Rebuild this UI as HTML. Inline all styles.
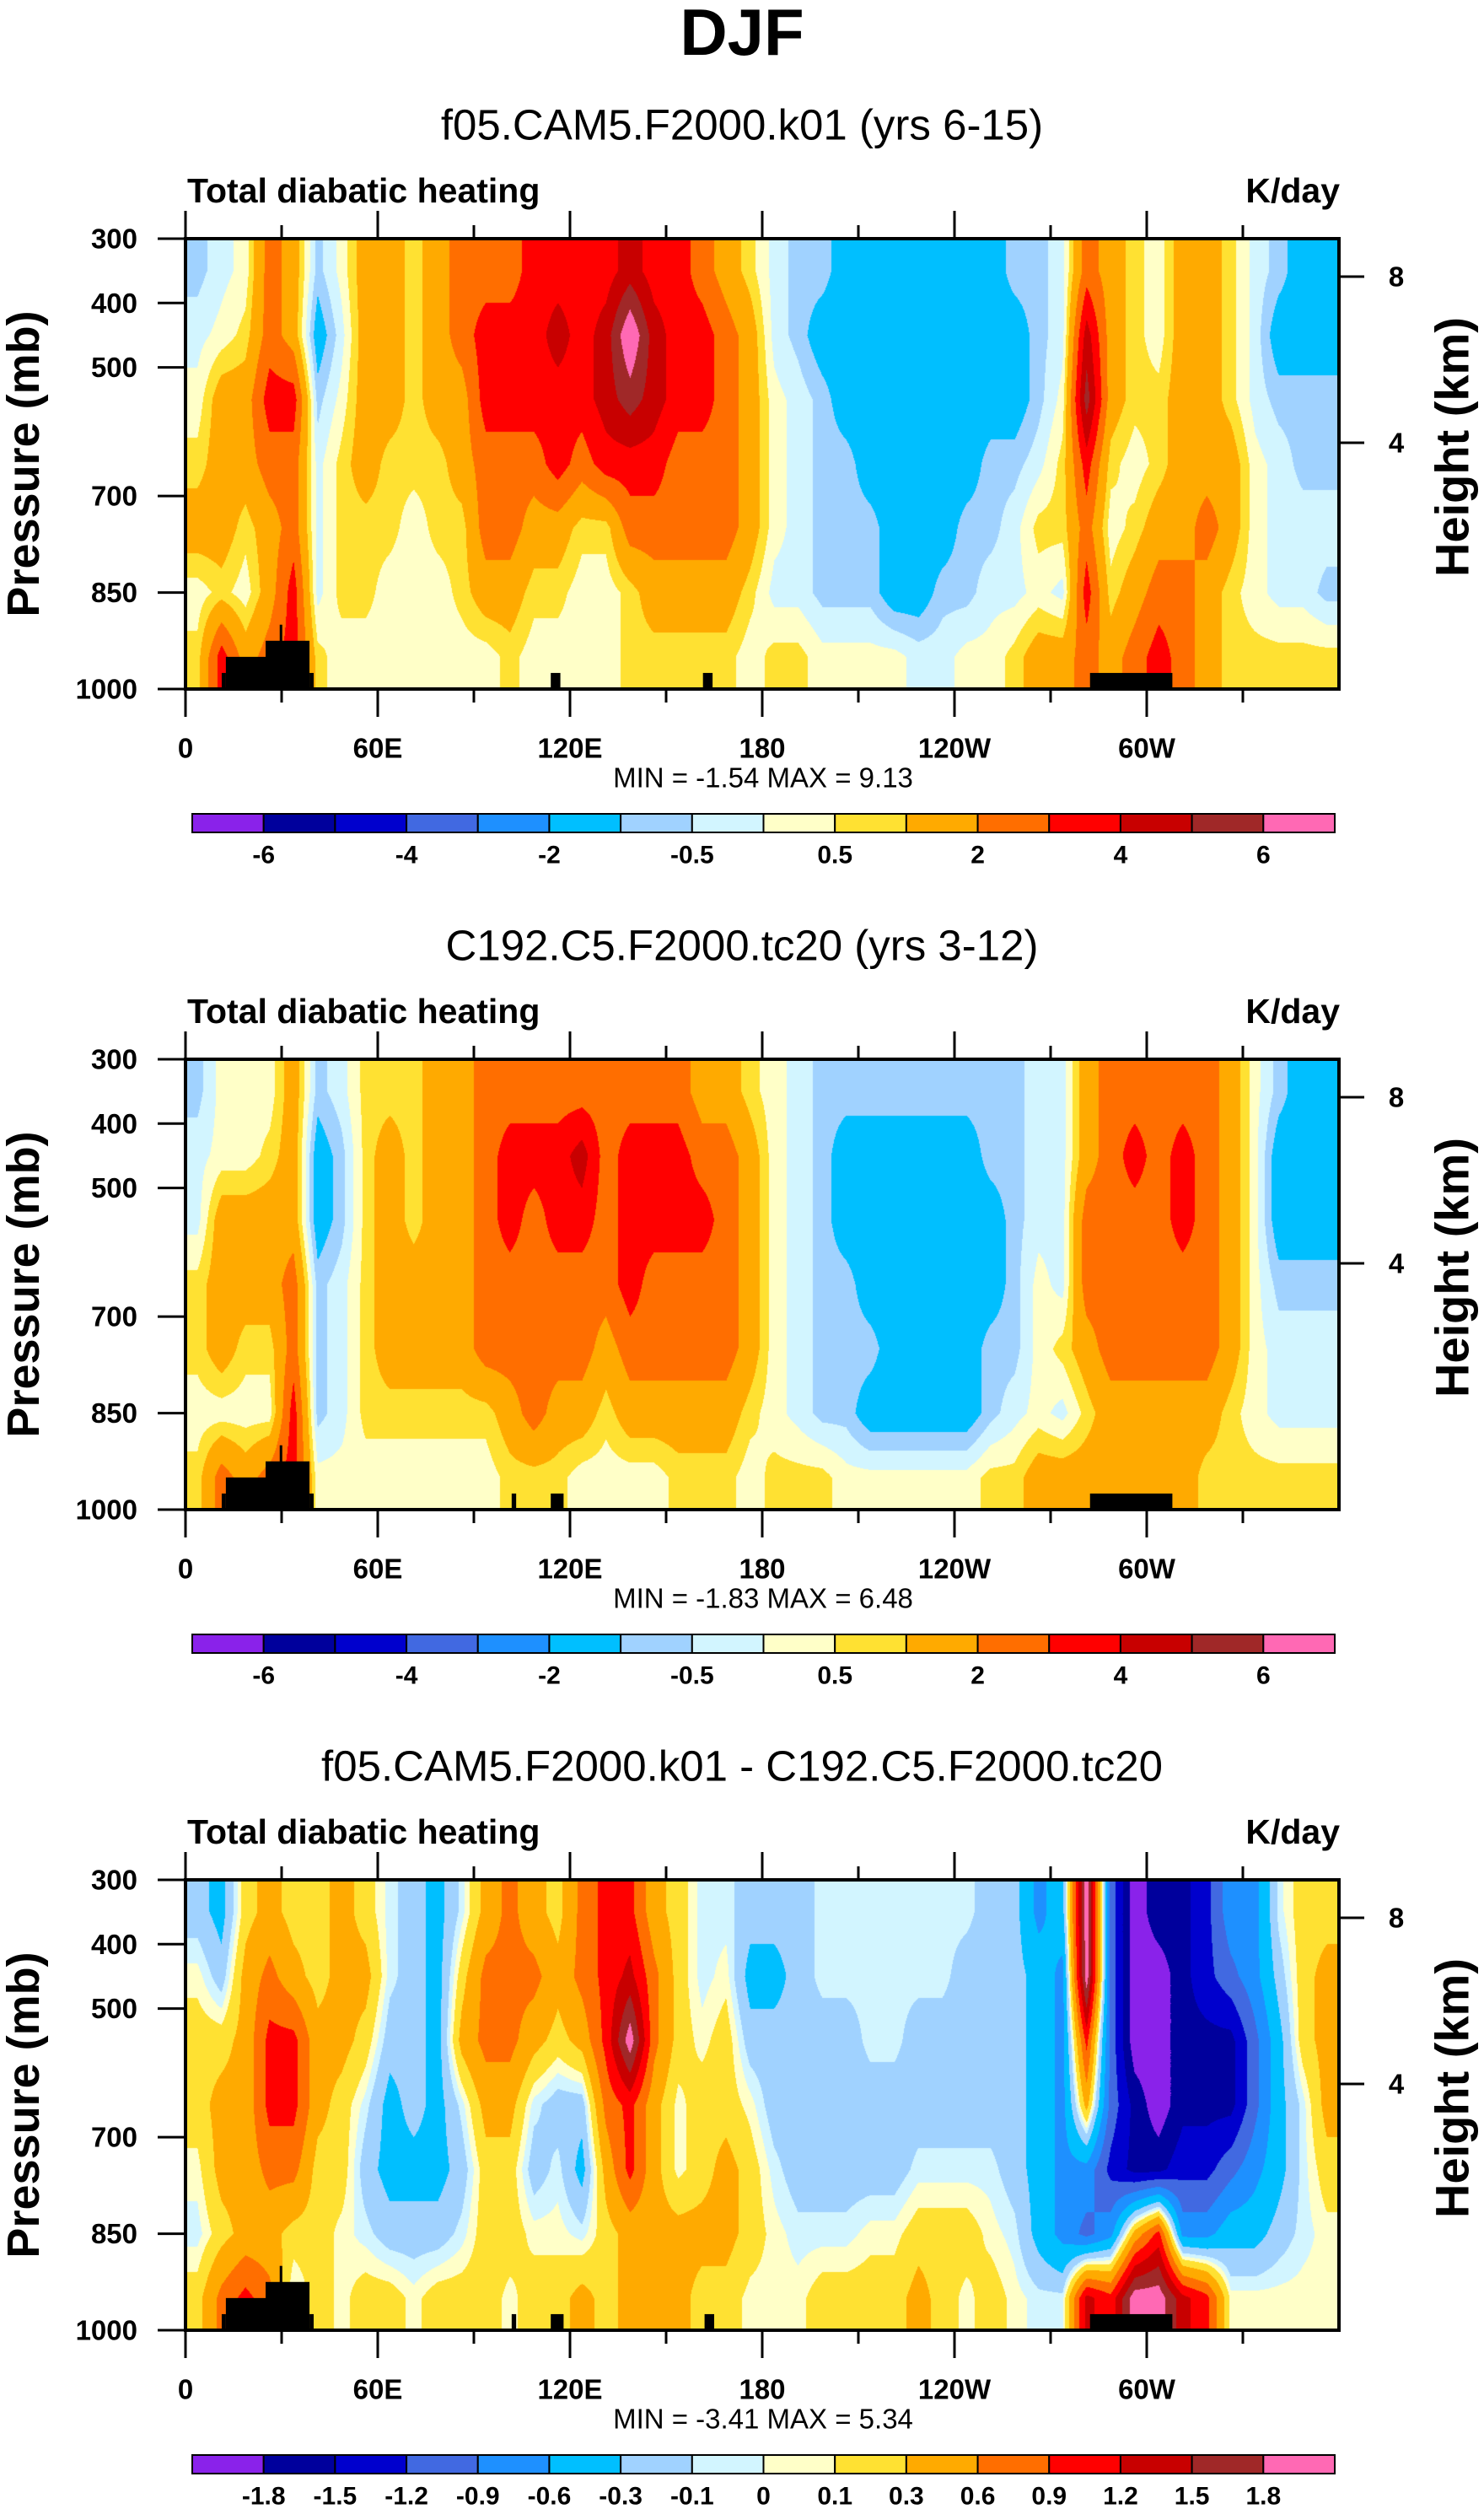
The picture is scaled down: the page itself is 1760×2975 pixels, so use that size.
<!DOCTYPE html>
<html><head><meta charset="utf-8"><title>DJF Total diabatic heating</title>
<style>
html,body{margin:0;padding:0;background:#fff;}
#root{position:relative;width:1760px;height:2975px;overflow:hidden;font-family:"Liberation Sans",sans-serif;}
canvas{position:absolute;}
svg{position:absolute;left:0;top:0;}
</style></head>
<body>
<div id="root">
<canvas id="c0" width="1368" height="534" style="left:220px;top:283px"></canvas>
<canvas id="c1" width="1368" height="534" style="left:220px;top:1256px"></canvas>
<canvas id="c2" width="1368" height="534" style="left:220px;top:2229px"></canvas>
<svg id="svg" width="1760" height="2975"></svg>
</div>
<script>
const colors=["#8a22ea","#00009c","#0000cd","#4169e1","#1e90ff","#00bfff","#a0d2ff","#d2f5ff","#ffffc8","#ffe132","#ffaa00","#ff6e00","#ff0000","#c80000","#a02828","#ff69b4"];
const levelsAbs=[-6,-5,-4,-3,-2,-1,-0.5,0,0.5,1,2,3,4,5,6];
const levelsDiff=[-1.8,-1.5,-1.2,-0.9,-0.6,-0.3,-0.1,0,0.1,0.3,0.6,0.9,1.2,1.5,1.8];
const labelsAbs=["-6","-4","-2","-0.5","0.5","2","4","6"];
const labelsDiff=["-1.8","-1.5","-1.2","-0.9","-0.6","-0.3","-0.1","0","0.1","0.3","0.6","0.9","1.2","1.5","1.8"];
const pCenters=[350,450,550,650,750,850,950];
const pTicks=[300,400,500,700,850,1000];
const hTicks=[{lab:"8",y:45},{lab:"4",y:242}];
const lonTicks=["0","60E","120E","180","120W","60W"];
const titles=["f05.CAM5.F2000.k01 (yrs 6-15)","C192.C5.F2000.tc20 (yrs 3-12)","f05.CAM5.F2000.k01 - C192.C5.F2000.tc20"];
const minVals=["-1.54","-1.83","-3.41"];
const maxVals=["9.13","6.48","5.34"];
const land1=[[11.3,12.6,975],[12.6,25,950],[25,38.7,925],[38.7,40,975],[29.4,30.2,900],[114,117,975],[161.5,164.5,975],[282.3,308,975]];
const land2=[[11.3,12.6,975],[12.6,25,950],[25,38.7,925],[38.7,40,975],[29.4,30.2,900],[101.8,103.2,975],[114,118,975],[282.3,308,975]];
const land3=[[11.3,12.6,975],[12.6,25,950],[25,38.7,925],[38.7,40,975],[29.4,30.2,900],[101.8,103.2,975],[114,118,975],[162,165,975],[282.3,308,975]];
const panel1=[[-0.7,-0.2,0.2,0.7,1.5,0.2,0.7],[-0.2,0.2,1.5,1.5,1.5,0.7,3.5],[0.2,0.7,1.5,1.5,0.7,0.2,1.5],[2.5,2.5,3.5,2.5,1.5,1.5,2.5],[1.5,1.5,3.5,2.5,2.5,3.5,3.5],[-0.7,-1.5,-0.7,-0.2,-0.2,-0.2,0.7],[0.2,-0.2,0.2,0.7,0.7,0.7,0.2],[1.5,1.5,1.5,1.5,0.7,0.7,0.2],[1.5,1.5,1.5,0.7,0.7,0.2,0.2],[0.7,0.7,0.7,0.7,0.2,0.2,0.2],[1.5,1.5,1.5,0.7,0.7,0.2,0.2],[2.5,2.5,1.5,1.5,0.7,0.7,0.2],[2.5,3.5,3.5,2.5,2.5,1.5,0.2],[2.5,3.5,3.5,2.5,2.5,1.5,0.7],[3.5,3.5,3.5,2.5,1.5,0.7,0.2],[3.5,4.5,3.5,3.5,1.5,0.7,0.2],[3.5,3.5,3.5,2.5,0.7,0.2,0.2],[3.5,4.5,4.5,3.5,0.7,0.2,0.2],[4.5,7,5.5,3.5,2.5,0.7,0.7],[3.5,4.5,4.5,3.5,2.5,1.5,0.7],[3.5,3.5,3.5,2.5,2.5,1.5,0.7],[2.5,3.5,3.5,2.5,2.5,1.5,0.7],[1.5,2.5,2.5,2.5,2.5,1.5,0.7],[0.7,1.5,1.5,1.5,1.5,0.7,0.2],[-0.2,-0.2,0.2,0.2,0.2,-0.2,0.7],[-0.7,-0.7,-0.2,-0.2,-0.2,-0.2,0.7],[-0.7,-1.5,-0.7,-0.7,-0.7,-0.7,0.2],[-1.5,-1.5,-1.5,-0.7,-0.7,-0.7,0.2],[-1.5,-1.5,-1.5,-1.5,-0.7,-0.7,0.2],[-1.5,-1.5,-1.5,-1.5,-1.5,-1.5,0.2],[-1.5,-1.5,-1.5,-1.5,-1.5,-1.5,-0.2],[-1.5,-1.5,-1.5,-1.5,-1.5,-0.7,-0.2],[-1.5,-1.5,-1.5,-1.5,-0.7,-0.7,0.2],[-1.5,-1.5,-1.5,-0.7,-0.7,-0.2,0.2],[-0.7,-1.5,-1.5,-0.7,-0.2,-0.2,0.7],[-0.7,-0.7,-0.7,-0.2,0.7,0.2,1.5],[-0.2,-0.2,0.2,0.7,0.7,-0.2,1.5],[2.5,4.5,5.5,3.5,2.5,3.5,2.5],[1.5,1.5,1.5,0.7,0.2,0.7,1.5],[0.7,0.7,0.7,0.2,0.7,1.5,2.5],[0.2,0.2,0.7,0.7,1.5,2.5,3.5],[1.5,1.5,1.5,1.5,1.5,2.5,2.5],[1.5,1.5,1.5,1.5,2.5,1.5,1.5],[0.7,0.7,0.7,1.5,1.5,0.7,0.7],[-0.2,-0.2,-0.2,0.2,0.2,0.2,0.7],[-0.7,-1.5,-0.7,-0.2,-0.2,-0.2,0.7],[-1.5,-1.5,-0.7,-0.7,-0.2,-0.2,0.7],[-1.5,-1.5,-0.7,-0.7,-0.2,-0.7,0.7]];
const panel2=[[-0.7,-0.2,-0.2,0.7,0.7,0.2,0.7],[0.2,0.2,1.5,1.5,1.5,0.2,2.5],[0.2,0.2,1.5,1.5,0.7,0.2,1.5],[0.2,0.7,1.5,1.5,0.7,0.2,2.5],[1.5,1.5,1.5,2.5,2.5,3.5,3.5],[-0.7,-1.5,-1.5,-0.7,-0.7,-0.7,0.2],[-0.2,-0.7,-0.7,-0.2,-0.2,-0.2,0.2],[0.7,0.7,0.7,0.7,0.7,0.7,0.2],[0.7,1.5,1.5,1.5,1.5,0.7,0.2],[0.7,0.7,0.7,1.5,1.5,0.7,0.2],[1.5,1.5,1.5,1.5,1.5,0.7,0.2],[1.5,1.5,1.5,1.5,1.5,0.7,0.2],[2.5,2.5,2.5,2.5,2.5,0.7,0.2],[2.5,3.5,3.5,2.5,2.5,1.5,0.7],[2.5,3.5,2.5,2.5,2.5,2.5,0.7],[2.5,3.5,3.5,2.5,2.5,1.5,0.7],[2.5,4.5,3.5,2.5,2.5,1.5,0.2],[2.5,2.5,2.5,2.5,1.5,0.7,0.2],[2.5,3.5,3.5,3.5,2.5,1.5,0.2],[2.5,3.5,3.5,2.5,2.5,1.5,0.2],[2.5,3.5,3.5,2.5,2.5,1.5,0.7],[1.5,2.5,3.5,2.5,2.5,1.5,0.7],[1.5,2.5,2.5,2.5,2.5,1.5,0.7],[0.7,1.5,1.5,1.5,1.5,0.7,0.2],[0.2,0.2,0.2,0.2,0.2,0.2,0.7],[-0.2,-0.2,-0.2,-0.2,-0.2,-0.2,0.7],[-0.7,-0.7,-0.7,-0.7,-0.7,-0.7,0.7],[-0.7,-1.5,-1.5,-0.7,-0.7,-0.7,0.2],[-0.7,-1.5,-1.5,-1.5,-0.7,-1.5,0.2],[-0.7,-1.5,-1.5,-1.5,-1.5,-1.5,0.2],[-0.7,-1.5,-1.5,-1.5,-1.5,-1.5,0.2],[-0.7,-1.5,-1.5,-1.5,-1.5,-1.5,0.2],[-0.7,-1.5,-1.5,-1.5,-1.5,-1.5,0.2],[-0.7,-0.7,-1.5,-1.5,-0.7,-0.7,0.7],[-0.7,-0.7,-0.7,-0.7,-0.7,-0.2,0.7],[-0.2,-0.2,-0.2,0.2,0.2,0.2,1.5],[-0.2,-0.2,-0.2,-0.2,0.7,-0.2,1.5],[1.5,1.5,2.5,2.5,1.5,0.7,1.5],[2.5,2.5,2.5,2.5,2.5,1.5,1.5],[2.5,3.5,2.5,2.5,2.5,1.5,1.5],[2.5,2.5,2.5,2.5,2.5,1.5,1.5],[2.5,3.5,3.5,2.5,2.5,1.5,1.5],[2.5,2.5,2.5,2.5,2.5,1.5,0.7],[1.5,1.5,1.5,1.5,1.5,0.7,0.7],[0.2,0.2,0.2,0.2,0.2,0.2,0.7],[-0.7,-1.5,-1.5,-0.7,-0.2,-0.2,0.7],[-1.5,-1.5,-1.5,-0.7,-0.2,-0.2,0.7],[-1.5,-1.5,-1.5,-0.7,-0.2,-0.2,0.7]];
const panel3=[[-0.2,0.05,0.2,0.2,0.05,-0.05,0.2],[-0.4,-0.2,0.2,0.4,0.4,0.2,0.7],[0.2,0.4,0.4,0.4,0.4,0.4,1],[0.4,0.7,1,1,0.7,0.4,0.7],[0.2,0.4,1,1,0.7,0.2,-0.05],[0.2,0.2,0.4,0.4,0.2,0.2,0.2],[0.4,0.4,0.4,0.2,0.2,0.05,0.05],[0.2,0.4,0.2,-0.05,-0.2,-0.05,0.2],[-0.05,-0.05,-0.2,-0.4,-0.4,-0.2,0.2],[-0.2,-0.2,-0.2,-0.2,-0.4,-0.2,0.05],[-0.4,-0.4,-0.4,-0.4,-0.4,-0.2,0.2],[-0.05,0.2,0.4,-0.05,-0.2,-0.05,0.2],[0.4,0.7,0.7,0.4,0.2,0.2,0.2],[0.7,0.7,0.7,0.4,0.2,0.2,0.05],[0.4,0.7,0.4,-0.05,-0.2,0.05,0.2],[0.2,0.4,0.2,-0.2,-0.05,0.05,0.2],[0.7,0.7,0.4,-0.2,-0.4,-0.05,0.4],[1,1,1,0.7,0.4,0.2,0.2],[1,1.3,2,1,1,0.4,0.4],[0.4,0.7,0.7,0.4,0.4,0.4,0.4],[0.2,0.2,0.2,0.05,0.05,0.4,0.4],[-0.05,-0.05,0.05,0.2,0.2,0.4,0.2],[-0.05,0.05,0.2,0.2,0.4,0.4,0.2],[-0.2,-0.4,-0.2,0.05,0.2,0.2,0.05],[-0.2,-0.4,-0.2,-0.2,-0.05,0.05,0.05],[-0.2,-0.2,-0.2,-0.2,-0.2,-0.05,0.05],[-0.05,-0.05,-0.2,-0.2,-0.2,-0.05,0.2],[-0.05,-0.05,-0.2,-0.2,-0.2,-0.05,0.2],[-0.05,-0.05,-0.05,-0.2,-0.2,0.05,0.2],[-0.05,-0.05,-0.05,-0.2,-0.2,0.05,0.2],[-0.05,-0.05,-0.2,-0.2,-0.05,0.2,0.4],[-0.05,-0.05,-0.2,-0.2,-0.05,0.2,0.2],[-0.05,-0.2,-0.2,-0.2,-0.05,0.2,0.05],[-0.2,-0.2,-0.2,-0.2,-0.05,0.05,0.2],[-0.2,-0.2,-0.2,-0.2,-0.2,-0.05,0.05],[-0.7,-0.4,-0.4,-0.4,-0.4,-0.4,-0.05],[-0.4,-0.7,-0.7,-0.7,-0.7,-0.7,-0.05],[2,2,1,0.4,-0.7,-1,1.3],[-1,-1,-1,-1,-1.3,-0.7,1],[-2,-2,-2,-1.6,-1.6,0.4,2],[-1.6,-2,-2,-2,-1.6,1,2],[-1.6,-1.6,-1.6,-1.6,-1.3,-0.7,1.3],[-1.3,-1.3,-1.6,-1.6,-1.3,-0.7,1],[-0.7,-1,-1.6,-1.6,-1,-0.4,0.05],[-0.7,-0.7,-1,-1,-0.7,-0.4,0.05],[-0.05,-0.2,-0.4,-0.4,-0.4,-0.2,0.05],[0.2,0.2,0.2,-0.05,-0.05,-0.05,0.05],[0.2,0.4,0.4,0.4,0.2,0.05,0.05]];

const PX0=220,PW=1368,PH=534,TOP0=283,DY=973;
const xOf=lon=>PX0+lon/360*PW;
const yOf=(p,top)=>top+(p-300)/700*PH;
const NS="http://www.w3.org/2000/svg";
const svg=document.getElementById('svg');
function el(tag,attrs,parent){const e=document.createElementNS(NS,tag);for(const k in attrs)e.setAttribute(k,attrs[k]);(parent||svg).appendChild(e);return e;}
function txt(s,x,y,size,weight,anchor,parent){const t=el('text',{x:x,y:y,'font-size':size,'font-weight':weight,'text-anchor':anchor,'dominant-baseline':'central','font-family':'Liberation Sans, sans-serif',fill:'#000'},parent);t.textContent=s;return t;}

function classify(v,levels){let c=0;for(const l of levels){if(v>=l)c++;}return c;}
function drawField(canvasId,data,levels){
  const cv=document.getElementById(canvasId);const ctx=cv.getContext('2d');
  const img=ctx.createImageData(PW,PH);const rgb=colors.map(h=>[parseInt(h.substr(1,2),16),parseInt(h.substr(3,2),16),parseInt(h.substr(5,2),16)]);
  const nc=data.length,nr=pCenters.length;
  for(let y=0;y<PH;y++){
    const p=300+(y+0.5)/PH*700;
    let cy=(p-pCenters[0])/(pCenters[1]-pCenters[0]);cy=Math.max(0,Math.min(nr-1,cy));
    const r0=Math.min(nr-2,Math.floor(cy)),fy=cy-r0;
    for(let x=0;x<PW;x++){
      const lon=(x+0.5)/PW*360;
      let cx=lon/(360/nc)-0.5;cx=Math.max(0,Math.min(nc-1,cx));
      const c0=Math.min(nc-2,Math.floor(cx)),fx=cx-c0;
      const v=(data[c0][r0]*(1-fx)+data[c0+1][r0]*fx)*(1-fy)+(data[c0][r0+1]*(1-fx)+data[c0+1][r0+1]*fx)*fy;
      const col=rgb[classify(v,levels)];const i=(y*PW+x)*4;
      img.data[i]=col[0];img.data[i+1]=col[1];img.data[i+2]=col[2];img.data[i+3]=255;
    }
  }
  ctx.putImageData(img,0,0);
}

const panels=[{d:panel1,lv:levelsAbs,land:land1,labs:labelsAbs,every:2,c:'c0'},{d:panel2,lv:levelsAbs,land:land2,labs:labelsAbs,every:2,c:'c1'},{d:panel3,lv:levelsDiff,land:land3,labs:labelsDiff,every:1,c:'c2'}];

const mt=txt("DJF",880,38,78,'bold','middle');



panels.forEach((P,k)=>{
  const top=TOP0+k*DY, off=k*DY;
  drawField(P.c,P.d,P.lv);
  const g=el('g',{});
  
  
  const st=txt(titles[k],880,148+off,51,'normal','middle',g);
  
  
  const lt=txt("Total diabatic heating",222,226+off,41,'bold','start',g);
  
  
  const ut=txt("K/day",1589,226+off,41,'bold','end',g);
  
  
  P.land.forEach(L=>{
    const r=el('rect',{x:xOf(L[0]),y:yOf(L[2],top),width:xOf(L[1])-xOf(L[0]),height:yOf(1000,top)-yOf(L[2],top),fill:'#000'},g);
    
    
  });
  const fr=el('rect',{x:PX0,y:top,width:PW,height:PH,fill:'none',stroke:'#000','stroke-width':4},g);
  
  
  for(let lon=0;lon<=330;lon+=30){
    const major=lon%60===0,x=xOf(lon);
    el('line',{x1:x,x2:x,y1:top+PH,y2:top+PH+(major?33:16),stroke:'#000','stroke-width':3},g);
    el('line',{x1:x,x2:x,y1:top,y2:top-(major?33:16),stroke:'#000','stroke-width':3},g);
  }
  lonTicks.forEach((s,i)=>{
    const t=txt(s,xOf(i*60),887+off,33,'bold','middle',g);
    
    
  });
  pTicks.forEach(p=>{
    const y=yOf(p,top);
    el('line',{x1:PX0,x2:PX0-33,y1:y,y2:y,stroke:'#000','stroke-width':3},g);
    const t=txt(String(p),163,y,33,'bold','end',g);
    
    
  });
  hTicks.forEach(h=>{
    const y=top+h.y;
    el('line',{x1:PX0+PW,x2:PX0+PW+30,y1:y,y2:y,stroke:'#000','stroke-width':3},g);
    const t=txt(h.lab,1656,y,33,'bold','middle',g);
    
    
  });
  const yt=txt("Pressure (mb)",0,0,54,'bold','middle',g);
  yt.setAttribute('transform','translate(28,'+(top+PH/2)+') rotate(-90)');
  
  
  const ht=txt("Height (km)",0,0,56,'bold','middle',g);
  ht.setAttribute('transform','translate(1722,'+(top+PH/2-20)+') rotate(-90)');
  
  
  const mm=txt("MIN =  "+minVals[k]+"   MAX =  "+maxVals[k],905,922+off,33,'normal','middle',g);
  
  
  const cb=el('g',{},g);
  
  
  const bx=228,bw=1355/16,by=965+off,bh=22;
  colors.forEach((c,i)=>{
    const r=el('rect',{x:bx+i*bw,y:by,width:bw,height:bh,fill:c,stroke:'#000','stroke-width':2},cb);
    
    
  });
  P.labs.forEach((s,i)=>{
    const t=txt(s,bx+(i*P.every+1)*bw,1014+off,30,'bold','middle',cb);
    
    
  });
});
</script>
</body></html>
